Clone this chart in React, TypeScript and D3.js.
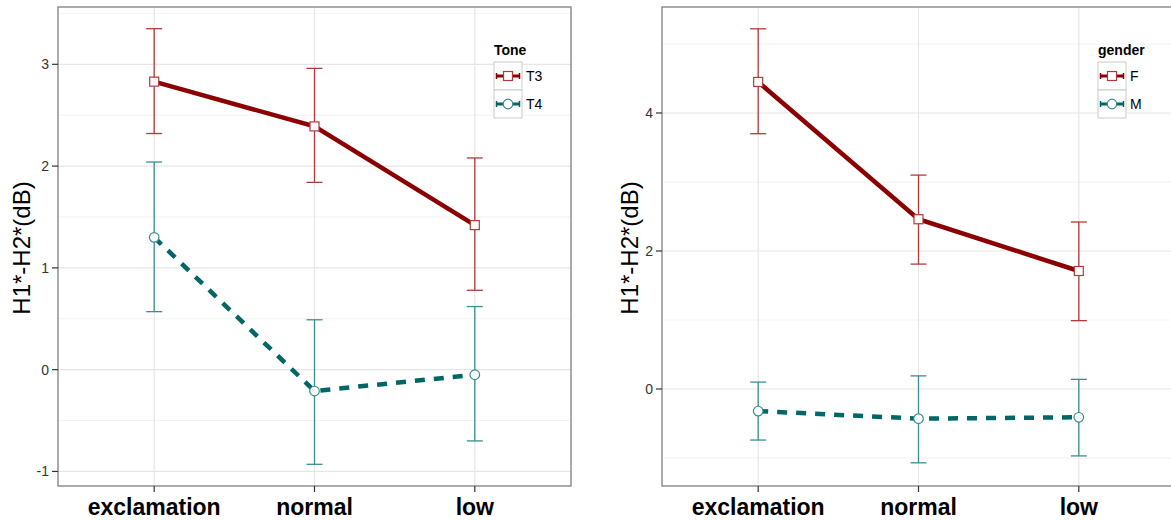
import * as d3 from "d3";

// categories on the x axis
const categories = ["exclamation", "normal", "low"];

// left panel: Tone
const t3Mean = [2.83, 2.39, 1.42];
const t3Upper = [3.35, 2.96, 2.08];
const t3Lower = [2.32, 1.84, 0.78];
const t4Mean = [1.3, -0.21, -0.05];
const t4Upper = [2.04, 0.49, 0.62];
const t4Lower = [0.57, -0.93, -0.7];

// right panel: gender
const fMean = [4.45, 2.46, 1.71];
const fUpper = [5.22, 3.1, 2.42];
const fLower = [3.7, 1.81, 0.99];
const mMean = [-0.32, -0.43, -0.41];
const mUpper = [0.1, 0.19, 0.14];
const mLower = [-0.74, -1.07, -0.97];

const leftTicks = [-1, 0, 1, 2, 3];
const leftMinor = [-0.5, 0.5, 1.5, 2.5, 3.5];
const rightTicks = [0, 2, 4];
const rightMinor = [-1, 1, 3, 5];

const font = "'Liberation Sans', Arial, sans-serif";
const RED = "#8b0000";
const TEAL = "#006666";
const RED_ERR = "#b23a3a";
const TEAL_ERR = "#3a8f8f";

type Series = {
  name: string;
  mean: number[];
  upper: number[];
  lower: number[];
  color: string;
  errColor: string;
  dashed: boolean;
  shape: "square" | "circle";
};

function Marker({ shape, x, y, color }: { shape: string; x: number; y: number; color: string }) {
  if (shape === "square")
    return <rect x={x - 4.5} y={y - 4.5} width={9} height={9} fill="white" stroke={color} strokeWidth={1.2} />;
  return <circle cx={x} cy={y} r={4.8} fill="white" stroke={color} strokeWidth={1.2} />;
}

function Panel({
  left,
  width,
  yDomain,
  ticks,
  minor,
  series,
  legendTitle,
  legendX,
  titleX,
}: {
  left: number;
  width: number;
  yDomain: [number, number];
  ticks: number[];
  minor: number[];
  series: Series[];
  legendTitle: string;
  legendX: number;
  titleX: number;
}) {
  const top = 7;
  const bottom = 486;
  const x = d3.scalePoint<string>().domain(categories).range([left, left + width]).padding(0.6);
  const y = d3.scaleLinear().domain(yDomain).range([bottom, top]);
  const line = d3
    .line<number>()
    .x((_, i) => x(categories[i])!)
    .y((d) => y(d));

  return (
    <g>
      <defs>
        <clipPath id={`clip-${left}`}>
          <rect x={left} y={top} width={width} height={bottom - top} />
        </clipPath>
      </defs>
      <rect x={left} y={top} width={width} height={bottom - top} fill="white" />
      <g clipPath={`url(#clip-${left})`}>
        {minor.map((t) => (
          <line key={"m" + t} x1={left} x2={left + width} y1={y(t)} y2={y(t)} stroke="#f3f3f3" strokeWidth={1} />
        ))}
        {ticks.map((t) => (
          <line key={"g" + t} x1={left} x2={left + width} y1={y(t)} y2={y(t)} stroke="#e6e6e6" strokeWidth={1.2} />
        ))}
        {categories.map((c) => (
          <line key={c} x1={x(c)} x2={x(c)} y1={top} y2={bottom} stroke="#e6e6e6" strokeWidth={1.2} />
        ))}
        {series.map((s) =>
          categories.map((c, i) => {
            const cx = x(c)!;
            return (
              <g key={s.name + c} stroke={s.errColor} strokeWidth={1.3}>
                <line x1={cx} x2={cx} y1={y(s.upper[i])} y2={y(s.lower[i])} />
                <line x1={cx - 8} x2={cx + 8} y1={y(s.upper[i])} y2={y(s.upper[i])} />
                <line x1={cx - 8} x2={cx + 8} y1={y(s.lower[i])} y2={y(s.lower[i])} />
              </g>
            );
          })
        )}
        {series.map((s) => (
          <path
            key={"l" + s.name}
            d={line(s.mean)!}
            fill="none"
            stroke={s.color}
            strokeWidth={4.5}
            strokeDasharray={s.dashed ? "10 9" : undefined}
          />
        ))}
        {series.map((s) =>
          categories.map((c, i) => (
            <Marker key={"p" + s.name + c} shape={s.shape} x={x(c)!} y={y(s.mean[i])} color={s.errColor} />
          ))
        )}
      </g>
      <rect x={left} y={top} width={width} height={bottom - top} fill="none" stroke="#7f7f7f" strokeWidth={1.3} />
      {ticks.map((t) => (
        <g key={"t" + t}>
          <line x1={left - 6} x2={left} y1={y(t)} y2={y(t)} stroke="#333" strokeWidth={1.2} />
          <text x={left - 9} y={y(t)} dy="0.36em" textAnchor="end" fontFamily={font} fontSize={14} fill="#333">
            {t}
          </text>
        </g>
      ))}
      {categories.map((c) => (
        <g key={"x" + c}>
          <line x1={x(c)} x2={x(c)} y1={bottom} y2={bottom + 6} stroke="#333" strokeWidth={1.2} />
          <text x={x(c)} y={515} textAnchor="middle" fontFamily={font} fontSize={23} fontWeight="bold" fill="#000">
            {c}
          </text>
        </g>
      ))}
      <text
        transform={`translate(${titleX},248) rotate(-90)`}
        textAnchor="middle"
        fontFamily={font}
        fontSize={24}
        fill="#000"
      >
        H1*-H2*(dB)
      </text>
      <g transform={`translate(${legendX},0)`}>
        <text x={0} y={55} fontFamily={font} fontSize={14} fontWeight="bold" fill="#000">
          {legendTitle}
        </text>
        {series.map((s, i) => {
          const ky = 62 + i * 28;
          const cy = ky + 14;
          return (
            <g key={"k" + s.name}>
              <rect x={0} y={ky} width={28} height={28} fill="white" stroke="#cccccc" strokeWidth={1} />
              <line x1={2} x2={26} y1={cy} y2={cy} stroke={s.color} strokeWidth={3} />
              <line x1={2.5} x2={2.5} y1={cy - 3} y2={cy + 3} stroke={s.color} strokeWidth={1.5} />
              <line x1={25.5} x2={25.5} y1={cy - 3} y2={cy + 3} stroke={s.color} strokeWidth={1.5} />
              <Marker shape={s.shape} x={14} y={cy} color={s.errColor} />
              <text x={32} y={cy} dy="0.36em" fontFamily={font} fontSize={14} fill="#000">
                {s.name}
              </text>
            </g>
          );
        })}
      </g>
    </g>
  );
}

export default function App() {
  const toneSeries: Series[] = [
    { name: "T3", mean: t3Mean, upper: t3Upper, lower: t3Lower, color: RED, errColor: RED_ERR, dashed: false, shape: "square" },
    { name: "T4", mean: t4Mean, upper: t4Upper, lower: t4Lower, color: TEAL, errColor: TEAL_ERR, dashed: true, shape: "circle" },
  ];
  const genderSeries: Series[] = [
    { name: "F", mean: fMean, upper: fUpper, lower: fLower, color: RED, errColor: RED_ERR, dashed: false, shape: "square" },
    { name: "M", mean: mMean, upper: mUpper, lower: mLower, color: TEAL, errColor: TEAL_ERR, dashed: true, shape: "circle" },
  ];
  return (
    <svg
      width={1171}
      height={520}
      style={{ position: "absolute", left: 0, top: 0, background: "white" }}
    >
      <Panel
        left={58}
        width={513}
        yDomain={[-1.143, 3.563]}
        ticks={leftTicks}
        minor={leftMinor}
        series={toneSeries}
        legendTitle="Tone"
        legendX={494}
        titleX={30}
      />
      <Panel
        left={662}
        width={513}
        yDomain={[-1.406, 5.536]}
        ticks={rightTicks}
        minor={rightMinor}
        series={genderSeries}
        legendTitle="gender"
        legendX={1098}
        titleX={638}
      />
    </svg>
  );
}
